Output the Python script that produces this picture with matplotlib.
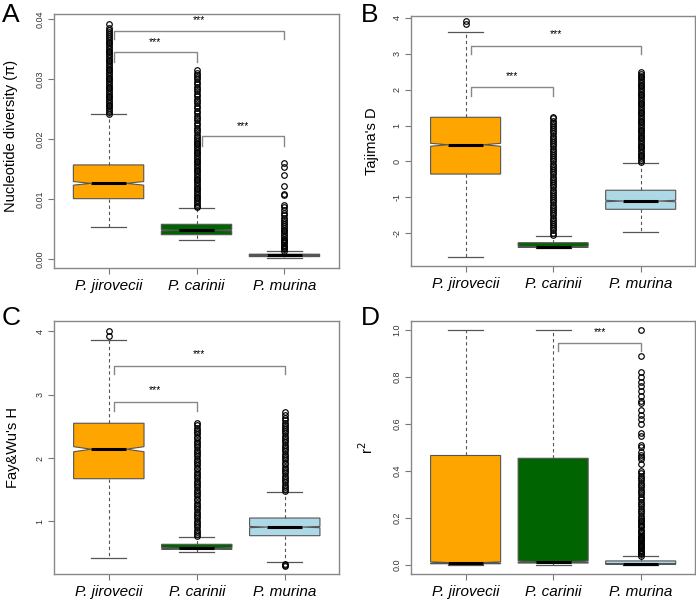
import matplotlib
matplotlib.use("Agg")
import matplotlib.pyplot as plt

plt.rcParams['font.family'] = ['Liberation Sans', 'DejaVu Sans']

species = ["P. jirovecii", "P. carinii", "P. murina"]
colors = ["#FFA500", "#006400", "#ADD8E6"]

# box stats per panel: whislo, q1, med, q3, whishi, notch half-width
statsA = [
    [0.00533, 0.01005, 0.0126, 0.01567, 0.0241, 0.0003],
    [0.00317, 0.00405, 0.00478, 0.00578, 0.00845, 0.0001],
    [0.0002, 0.0004, 0.0006, 0.0008, 0.0013, 0.00003],
]
statsB = [
    [-2.65, -0.35, 0.465, 1.23, 3.60, 0.04],
    [-2.40, -2.39, -2.37, -2.26, -2.06, 0.015],
    [-1.95, -1.33, -1.10, -0.80, -0.03, 0.02],
]
statsC = [
    [0.417, 1.674, 2.14, 2.55, 3.86, 0.04],
    [0.51, 0.559, 0.575, 0.638, 0.758, 0.01],
    [0.354, 0.774, 0.91, 1.053, 1.47, 0.01],
]
statsD = [
    [0.0, 0.005, 0.01, 0.466, 1.0, 0.003],
    [0.0, 0.008, 0.014, 0.454, 1.0, 0.003],
    [0.0, 0.003, 0.005, 0.017, 0.037, 0.001],
]

outA_jir = [0.0242, 0.0245, 0.0248, 0.0251, 0.0254, 0.0257, 0.0260, 0.0263, 0.0266, 0.0269,
            0.0272, 0.0275, 0.0278, 0.0281, 0.0284, 0.0287, 0.0290, 0.0293, 0.0296, 0.0299,
            0.0302, 0.0305, 0.0308, 0.0311, 0.0314, 0.0317, 0.0320, 0.0323, 0.0326, 0.0329,
            0.0332, 0.0335, 0.0338, 0.0341, 0.0344, 0.0347, 0.0350, 0.0353, 0.0356, 0.0359,
            0.0362, 0.0365, 0.0368, 0.0371, 0.0375, 0.0378, 0.0381, 0.0384, 0.0392]
outA_car = [0.0086, 0.0089, 0.0092, 0.0095, 0.0098, 0.0101, 0.0104, 0.0107, 0.0110, 0.0113,
            0.0116, 0.0119, 0.0122, 0.0125, 0.0128, 0.0131, 0.0134, 0.0137, 0.0140, 0.0143,
            0.0146, 0.0149, 0.0152, 0.0155, 0.0158, 0.0161, 0.0164, 0.0167, 0.0170, 0.0173,
            0.0176, 0.0179, 0.0182, 0.0185, 0.0188, 0.0191, 0.0194, 0.0197, 0.0200, 0.0203,
            0.0207, 0.0211, 0.0215, 0.0219, 0.0223, 0.0227, 0.0231, 0.0235, 0.0239, 0.0243,
            0.0247, 0.0251, 0.0255, 0.0259, 0.0263, 0.0267, 0.0271, 0.0275, 0.0279, 0.0283,
            0.0287, 0.0291, 0.0295, 0.0299, 0.0303, 0.0307, 0.0310, 0.0314]
outA_mur = [0.0014, 0.0016, 0.0018, 0.0020, 0.0022, 0.0024, 0.0026, 0.0028, 0.0030, 0.0032,
            0.0034, 0.0037, 0.0040, 0.0043, 0.0046, 0.0049, 0.0052, 0.0055, 0.0058, 0.0062,
            0.0065, 0.0069, 0.0073, 0.0077, 0.0082, 0.0086, 0.0090, 0.0106, 0.0109, 0.0121,
            0.0140, 0.0154, 0.0160]

outB_jir = [3.83, 3.92]
outB_car = [-2.04, -1.98, -1.92, -1.86, -1.80, -1.74, -1.68, -1.62, -1.56, -1.50, -1.44,
            -1.38, -1.32, -1.26, -1.20, -1.14, -1.08, -1.02, -0.96, -0.90, -0.84, -0.78,
            -0.72, -0.66, -0.60, -0.54, -0.48, -0.42, -0.36, -0.30, -0.24, -0.18, -0.12,
            -0.06, 0.00, 0.06, 0.12, 0.18, 0.24, 0.30, 0.36, 0.42, 0.48, 0.54, 0.60, 0.66,
            0.72, 0.78, 0.84, 0.90, 0.96, 1.02, 1.08, 1.14, 1.20, 1.25]
outB_mur = [-0.01, 0.04, 0.09, 0.14, 0.19, 0.24, 0.29, 0.34, 0.39, 0.44, 0.49, 0.54, 0.59,
            0.64, 0.69, 0.74, 0.79, 0.84, 0.89, 0.94, 0.99, 1.04, 1.09, 1.14, 1.19, 1.24,
            1.29, 1.34, 1.39, 1.44, 1.49, 1.54, 1.59, 1.64, 1.69, 1.74, 1.79, 1.84, 1.89,
            1.94, 1.99, 2.04, 2.09, 2.14, 2.19, 2.24, 2.29, 2.34, 2.39, 2.44, 2.49]

outC_jir = [3.93, 4.00]
outC_car = [0.77, 0.80, 0.84, 0.87, 0.91, 0.94, 0.98, 1.01, 1.05, 1.08, 1.12, 1.15, 1.19,
            1.22, 1.26, 1.29, 1.33, 1.36, 1.40, 1.43, 1.47, 1.50, 1.54, 1.57, 1.61, 1.64,
            1.68, 1.71, 1.75, 1.78, 1.82, 1.85, 1.89, 1.92, 1.96, 1.99, 2.03, 2.06, 2.10,
            2.13, 2.17, 2.20, 2.24, 2.27, 2.31, 2.34, 2.38, 2.41, 2.45, 2.48, 2.52, 2.56]
outC_mur = [0.29, 0.31, 0.33, 1.48, 1.51, 1.55, 1.58, 1.62, 1.65, 1.69, 1.72, 1.76, 1.79,
            1.83, 1.86, 1.90, 1.93, 1.97, 2.00, 2.04, 2.07, 2.11, 2.14, 2.18, 2.21, 2.25,
            2.28, 2.32, 2.35, 2.39, 2.42, 2.46, 2.49, 2.53, 2.56, 2.60, 2.64, 2.68, 2.72]

outD_jir = []
outD_car = []
outD_mur = [1.0, 0.89, 0.82, 0.80, 0.78, 0.76, 0.74, 0.72, 0.70, 0.69, 0.66, 0.64, 0.62,
            0.60, 0.56, 0.55, 0.51, 0.50, 0.48, 0.47, 0.46, 0.45, 0.43, 0.40, 0.39, 0.38,
            0.37, 0.36, 0.35, 0.34, 0.33, 0.32, 0.31, 0.30, 0.29, 0.28, 0.27, 0.26, 0.25,
            0.24, 0.23, 0.22, 0.21, 0.20, 0.19, 0.185, 0.18, 0.17, 0.165, 0.16, 0.15, 0.145,
            0.14, 0.13, 0.125, 0.12, 0.115, 0.11, 0.105, 0.10, 0.095, 0.09, 0.085, 0.08,
            0.075, 0.07, 0.065, 0.06, 0.055, 0.05, 0.045, 0.04]

# significance brackets: (left group, right group, bar y, drop y, star y)
compA = [(1, 2, 0.0344, 0.0328, 0.0361), (1, 3, 0.0380, 0.0366, 0.0398), (2, 3, 0.0205, 0.0189, 0.0222)]
compB = [(1, 2, 2.07, 1.83, 2.38), (1, 3, 3.22, 2.98, 3.54)]
compC = [(1, 2, 2.88, 2.74, 3.07), (1, 3, 3.46, 3.32, 3.64)]
compD = [(2, 3, 0.947, 0.909, 0.99)]


def panel(ax, stats, outs, comps, ylabel, yticks, ylim, tickfmt):
    bs = []
    for s, o in zip(stats, outs):
        bs.append(dict(whislo=s[0], q1=s[1], med=s[2], q3=s[3], whishi=s[4],
                       cilo=s[2] - s[5], cihi=s[2] + s[5], fliers=o))
    res = ax.bxp(bs, positions=[1, 2, 3], widths=0.8, capwidths=0.4,
                 shownotches=True, patch_artist=True,
                 boxprops=dict(edgecolor="#555555", linewidth=0.8),
                 whiskerprops=dict(color="#555555", linewidth=0.8, linestyle=(0, (3, 2.5))),
                 capprops=dict(color="#555555", linewidth=0.9),
                 medianprops=dict(color="black", linewidth=2.2, solid_capstyle="butt"),
                 flierprops=dict(marker="o", markersize=4.0, markerfacecolor="none",
                                 markeredgecolor="black", markeredgewidth=0.85))
    for patch, c in zip(res["boxes"], colors):
        patch.set_facecolor(c)
    for g1, g2, yb, yd, ys in comps:
        x1 = g1 + 0.06
        ax.plot([x1, x1, g2, g2], [yd, yb, yb, yd], color="#888888", lw=1.0)
        ax.text((x1 + g2) / 2, ys, "***", ha="center", va="center", fontsize=7.5)
    ax.set_xlim(0.38, 3.62)
    ax.set_ylim(*ylim)
    ax.set_yticks(yticks)
    ax.set_yticklabels([tickfmt.format(t) for t in yticks], rotation=90, va="center",
                       fontsize=6.5, color="#333333")
    ax.set_xticks([1, 2, 3])
    ax.set_xticklabels(species, fontstyle="italic", fontsize=11)
    ax.tick_params(axis="both", color="#777777", length=4, width=0.8)
    ax.tick_params(axis="y", pad=3)
    ax.tick_params(axis="x", pad=4)
    for sp in ax.spines.values():
        sp.set_color("#888888")
        sp.set_linewidth(1.0)
    ax.set_ylabel(ylabel, fontsize=10.5)
    return ax


fig = plt.figure(figsize=(6.96, 6.02), dpi=100)
axA = fig.add_axes([0.0776, 0.5548, 0.4095, 0.4219])
axB = fig.add_axes([0.591, 0.5586, 0.4075, 0.4153])
axC = fig.add_axes([0.078, 0.046, 0.4095, 0.4213])
axD = fig.add_axes([0.591, 0.046, 0.4075, 0.4213])

panel(axA, statsA, [outA_jir, outA_car, outA_mur], compA, "Nucleotide diversity (\u03c0)",
      [0.0, 0.01, 0.02, 0.03, 0.04], (-0.0015, 0.0408), "{:.2f}")
panel(axB, statsB, [outB_jir, outB_car, outB_mur], compB, "Tajima's D",
      [-2, -1, 0, 1, 2, 3, 4], (-2.90, 4.056), "{:.0f}")
panel(axC, statsC, [outC_jir, outC_car, outC_mur], compC, "Fay&Wu's H",
      [1, 2, 3, 4], (0.164, 4.17), "{:.0f}")
panel(axD, statsD, [outD_jir, outD_car, outD_mur], compD, "r$^2$",
      [0.0, 0.2, 0.4, 0.6, 0.8, 1.0], (-0.04, 1.04), "{:.1f}")

axA.yaxis.set_label_coords(-0.125, 0.52)
axB.yaxis.set_label_coords(-0.115, 0.5)
axC.yaxis.set_label_coords(-0.12, 0.5)
axD.yaxis.set_label_coords(-0.125, 0.5)

fig.text(0.003, 0.9635, "A", fontsize=19, va="baseline", ha="left")
fig.text(0.519, 0.9635, "B", fontsize=19, va="baseline", ha="left")
fig.text(0.003, 0.460, "C", fontsize=19, va="baseline", ha="left")
fig.text(0.519, 0.460, "D", fontsize=19, va="baseline", ha="left")

fig.savefig("out.png", dpi=100)
